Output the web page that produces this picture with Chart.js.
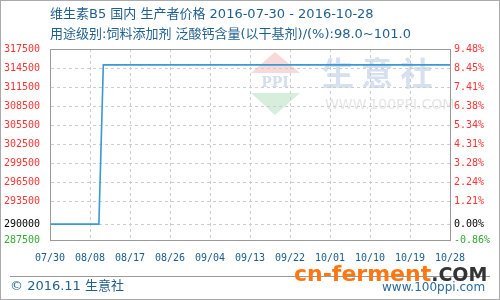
<!DOCTYPE html>
<html>
<head>
<meta charset="utf-8">
<script src="https://cdn.jsdelivr.net/npm/chart.js@4.4.0/dist/chart.umd.min.js"></script>
<style>
  html, body { margin: 0; padding: 0; background: #fff; }
  #wrap { width: 500px; height: 300px; position: relative; }
</style>
</head>
<body>
<div id="wrap"><canvas id="myChart" width="500" height="300"></canvas></div>
<script>
// Data (x = days since 07/30)
const pointDays = [0, 11, 12, 90];
const priceValues = [290000, 290000, 315000, 315000];

const dateLabels = ['07/30', '08/08', '08/17', '08/26', '09/04', '09/13', '09/22', '10/01', '10/10', '10/19', '10/28'];
const leftTicks = [317500, 314500, 311500, 308500, 305500, 302500, 299500, 296500, 293500, 290000, 287500];
const rightTickLabels = ['9.48%', '8.45%', '7.41%', '6.38%', '5.34%', '4.31%', '3.28%', '2.24%', '1.21%', '0.00%', '-0.86%'];

const titleText = '维生素B5 国内 生产者价格 2016-07-30 - 2016-10-28';
const subTitleText = '用途级别:饲料添加剂 泛酸钙含量(以干基剂)/(%):98.0~101.0';
const footerText = '© 2016.11 生意社';

const baseValue = 290000;
const cjkFont = '"DejaVu Sans", "Noto Sans CJK SC", sans-serif';
const monoFont = '"DejaVu Sans Mono", monospace';

function tickColor(value) {
  if (value === baseValue) return '#000000';
  if (value < baseValue) return '#33aa33';
  return '#ff3333';
}

// Title, footer, frame and watermark drawn on the canvas
const decorPlugin = {
  id: 'decor',
  beforeDraw(chart) {
    const ctx = chart.ctx;
    ctx.save();
    ctx.fillStyle = '#ffffff';
    ctx.fillRect(0, 0, chart.width, chart.height);

    // watermark logo
    ctx.fillStyle = '#f8d8d8';
    ctx.beginPath();
    ctx.moveTo(275, 52); ctx.lineTo(300, 73); ctx.lineTo(251, 73); ctx.closePath();
    ctx.fill();
    ctx.fillStyle = '#d8eedd';
    ctx.beginPath();
    ctx.moveTo(251, 93); ctx.lineTo(300, 93); ctx.lineTo(275, 115); ctx.closePath();
    ctx.fill();
    ctx.fillStyle = '#d4deee';
    ctx.font = 'bold 14px "DejaVu Serif", serif';
    ctx.textAlign = 'center';
    ctx.textBaseline = 'middle';
    ctx.fillText('PPI', 275, 83);
    ctx.font = 'bold 32px "Noto Sans CJK SC", sans-serif';
    ctx.textAlign = 'left';
    ctx.fillStyle = '#d6e0ef';
    ctx.fillText('生 意 社', 322, 73);
    ctx.font = '14px "DejaVu Sans", sans-serif';
    ctx.fillStyle = '#e6e6e6';
    ctx.fillText('WWW.100PPI.COM', 325, 105);
    ctx.restore();
  },
  afterDraw(chart) {
    const ctx = chart.ctx;
    const a = chart.chartArea;
    ctx.save();
    // plot frame
    ctx.strokeStyle = '#999999';
    ctx.lineWidth = 1;
    ctx.strokeRect(Math.round(a.left) + 0.5, Math.round(a.top) + 0.5,
      Math.round(a.right - a.left), Math.round(a.bottom - a.top));
    // outer frame
    ctx.strokeStyle = '#aaaaaa';
    ctx.strokeRect(0.5, 0.5, chart.width - 1, chart.height - 1);

    // titles
    ctx.fillStyle = '#1f5f8f';
    ctx.textAlign = 'left';
    ctx.textBaseline = 'middle';
    ctx.font = '13px ' + cjkFont;
    ctx.fillText(titleText, 50, 15);
    ctx.fillText(subTitleText, 50, 35);

    // footer
    ctx.strokeStyle = '#999999';
    ctx.beginPath();
    ctx.moveTo(10, 276.5); ctx.lineTo(490, 276.5);
    ctx.stroke();
    ctx.fillStyle = '#1f5f8f';
    ctx.font = '13px ' + cjkFont;
    ctx.fillText(footerText, 10, 287);

    ctx.fillStyle = '#2a6aa0';
    ctx.font = '12px "DejaVu Sans", sans-serif';
    ctx.fillText('www.100ppi.com', 382, 288);
    ctx.font = 'bold 22px "DejaVu Sans", sans-serif';
    ctx.fillStyle = '#ff7711';
    ctx.fillText('cn-ferment', 294, 275);
    const w = ctx.measureText('cn-ferment').width;
    ctx.fillStyle = '#333333';
    ctx.font = 'bold 19px "DejaVu Sans", sans-serif';
    ctx.fillText('.COM', 294 + w, 276);
    ctx.restore();
  }
};

const gridColor = '#cccccc';
const ctx = document.getElementById('myChart');

new Chart(ctx, {
  type: 'line',
  data: {
    datasets: [{
      data: pointDays.map((d, i) => ({ x: d, y: priceValues[i] })),
      borderColor: '#3a98d4',
      borderWidth: 1.6,
      pointRadius: 0,
      tension: 0,
      fill: false
    }]
  },
  options: {
    responsive: false,
    animation: false,
    events: [],
    layout: { padding: { top: 49, bottom: 35, left: 0, right: 0 } },
    plugins: { legend: { display: false }, tooltip: { enabled: false } },
    scales: {
      x: {
        type: 'linear',
        min: 0,
        max: 90,
        afterBuildTicks(axis) {
          axis.ticks = dateLabels.map((_, i) => ({ value: i * 9 }));
        },
        afterFit(axis) { axis.height = 25; },
        ticks: {
          autoSkip: false,
          maxRotation: 0,
          padding: 12,
          color: '#1a5c8c',
          font: { family: monoFont, size: 10 },
          callback: (v, i) => dateLabels[i]
        },
        grid: { color: gridColor, drawTicks: false, borderDash: [3, 3] },
        border: { display: true, color: 'rgba(0,0,0,0)', dash: [3, 3] }
      },
      y: {
        position: 'left',
        min: 287500,
        max: 317500,
        afterBuildTicks(axis) {
          axis.ticks = leftTicks.map(v => ({ value: v }));
        },
        afterFit(axis) { axis.width = 50; },
        ticks: {
          autoSkip: false,
          padding: 10,
          color: c => tickColor(c.tick.value),
          font: { family: monoFont, size: 10 },
          callback: v => String(v)
        },
        grid: { color: gridColor, drawTicks: false, borderDash: [3, 3] },
        border: { display: true, color: 'rgba(0,0,0,0)', dash: [3, 3] }
      },
      y2: {
        position: 'right',
        min: 287500,
        max: 317500,
        afterBuildTicks(axis) {
          axis.ticks = leftTicks.map(v => ({ value: v }));
        },
        afterFit(axis) { axis.width = 50; },
        ticks: {
          autoSkip: false,
          padding: 4,
          color: c => tickColor(c.tick.value),
          font: { family: monoFont, size: 10 },
          callback: (v, i) => rightTickLabels[i]
        },
        grid: { display: false, drawTicks: false },
        border: { display: false }
      }
    }
  },
  plugins: [decorPlugin]
});
</script>
</body>
</html>
